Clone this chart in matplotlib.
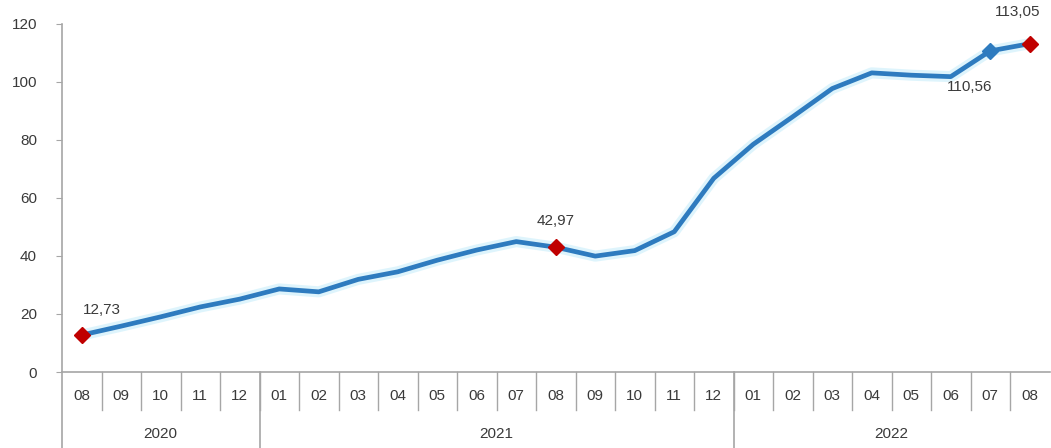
import matplotlib
matplotlib.use("Agg")
import matplotlib.pyplot as plt

plt.rcParams["font.family"] = ["Liberation Sans", "DejaVu Sans"]

# Monthly annual change (%), Aug 2020 - Aug 2022
months = ["08", "09", "10", "11", "12",
          "01", "02", "03", "04", "05", "06", "07", "08", "09", "10", "11", "12",
          "01", "02", "03", "04", "05", "06", "07", "08"]
years = ["2020", "2021", "2022"]
year_counts = [5, 12, 8]
values = [12.73, 15.8, 19.0, 22.4, 25.1,
          28.6, 27.6, 31.9, 34.5, 38.5, 42.0, 44.9, 42.97, 39.9, 41.8, 48.3, 66.7,
          78.4, 87.9, 97.6, 103.0, 102.2, 101.7, 110.56, 113.05]

# highlighted points: index -> (marker colour, label offset in pixels)
highlights = {0: ("#C00000", (20, 25)),
              12: ("#C00000", (0, 26)),
              23: ("#2E7BBF", (-21, -36)),
              24: ("#C00000", (-12, 32))}

LINE = "#2E7BBF"
TXT = "#3A3A3A"
AXC = "#A6A6A6"
FS = 11

W, H = 1051, 448
left, right, x0_y, top_y = 62, 1049.5, 372, 23.5

fig = plt.figure(figsize=(W / 100, H / 100), dpi=100)
ax = fig.add_axes([left / W, (H - x0_y) / H, (right - left) / W, (x0_y - top_y) / H])

x = list(range(len(values)))
ax.plot(x, values, color="#C8EEFB", lw=8, alpha=0.6, solid_capstyle="round",
        solid_joinstyle="round", zorder=1)
ax.plot(x, values, color=LINE, lw=3.4, solid_joinstyle="round", zorder=2)

for i, (c, off) in highlights.items():
    ax.plot(x[i], values[i], marker="D", ms=8.5, color=c, mec=c, zorder=3)
    ax.annotate(f"{values[i]:.2f}".replace(".", ","), (x[i], values[i]),
                xytext=off, textcoords="offset pixels", ha="center", va="center",
                fontsize=FS, color=TXT, zorder=4)

ax.set_xlim(-0.5, len(values) - 0.5)
ax.set_ylim(0, 120)
ax.set_yticks(range(0, 121, 20))
ax.tick_params(axis="y", direction="out", length=4, color=AXC, labelsize=FS,
               labelcolor=TXT, pad=14)
ax.set_xticks([])

for s in ("top", "right"):
    ax.spines[s].set_visible(False)
for s in ("left", "bottom"):
    ax.spines[s].set_color(AXC)
    ax.spines[s].set_linewidth(1.2)

# multi-level category axis drawn below the plot
ph = x0_y - top_y
fy = lambda py: (x0_y - py) / ph
tr = ax.get_xaxis_transform()

ax.plot([-0.5, -0.5], [0, fy(H)], transform=tr, color=AXC, lw=1.2, clip_on=False)
for i, m in enumerate(months):
    ax.text(i, fy(396), m, transform=tr, ha="center", va="center",
            fontsize=FS, color=TXT)
    if i < len(months) - 1:
        ax.plot([i + 0.5, i + 0.5], [0, fy(410)], transform=tr, color=AXC,
                lw=1, clip_on=False)

start = 0
for yr, n in zip(years, year_counts):
    ax.text(start + (n - 1) / 2, fy(434), yr, transform=tr, ha="center",
            va="center", fontsize=FS, color=TXT)
    if start > 0:
        ax.plot([start - 0.5, start - 0.5], [0, fy(H)], transform=tr, color=AXC,
                lw=1.2, clip_on=False)
    start += n

fig.savefig("out.png", dpi=100)
